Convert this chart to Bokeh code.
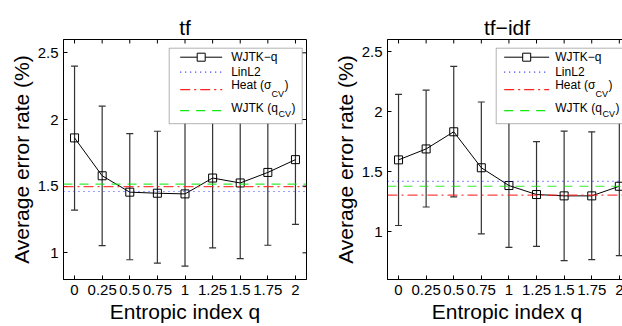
import math
from bokeh.plotting import figure
from bokeh.models import (Range1d, FixedTicker, Whisker, TeeHead,
                          ColumnDataSource, Span, BoxAnnotation, Label)
from bokeh.layouts import row
from bokeh.embed import file_html
from bokeh.resources import INLINE

# ---------------- data ----------------
q_values = [0, 0.25, 0.5, 0.75, 1, 1.25, 1.5, 1.75, 2]
q_labels = ["0", "0.25", "0.5", "0.75", "1", "1.25", "1.5", "1.75", "2"]
y_ticks = [1, 1.5, 2, 2.5]
y_labels = ["1", "1.5", "2", "2.5"]

tf_mean = [1.862, 1.578, 1.455, 1.447, 1.442, 1.561, 1.524, 1.603, 1.699]
tf_lower = [1.321, 1.054, 0.948, 0.923, 0.901, 1.037, 0.956, 1.057, 1.213]
tf_upper = [2.401, 2.100, 1.894, 1.912, 1.983, 2.085, 2.092, 2.149, 2.185]
tf_linl2 = 1.460
tf_heat = 1.497
tf_wjtk = 1.516

tfidf_mean = [1.597, 1.688, 1.831, 1.531, 1.383, 1.308, 1.297, 1.297, 1.377]
tfidf_lower = [1.050, 1.204, 1.289, 0.981, 0.868, 0.876, 0.758, 0.766, 0.799]
tfidf_upper = [2.142, 2.178, 2.376, 2.079, 1.930, 1.749, 1.837, 1.831, 1.955]
tfidf_linl2 = 1.418
tfidf_heat = 1.303
tfidf_wjtk = 1.377

titles = ["tf", "tf\u2212idf"]
x_label = "Entropic index q"
y_label = "Average error rate (%)"
legend_labels = ["WJTK\u2212q", "LinL2", "Heat (\u03c3", "WJTK (q"]
legend_sub = "CV"

FONT = "Liberation Sans"
FH = 240
BLUE, RED, GREEN = "#1a1aff", "#ff2020", "#10e810"
DOT, DASHDOT, DASH = "1 4", "10 4 2 4", "9 7"


def make_panel(title, mean, lower, upper, linl2, heat, wjtk,
               xr, yr, fw, bl, br, leg_left, leg_w, samp0, samp1, text_off):
    p = figure(frame_width=fw, frame_height=FH,
               x_range=Range1d(*xr), y_range=Range1d(*yr),
               output_backend="svg", toolbar_location=None,
               min_border_left=bl, min_border_right=br,
               min_border_top=39, min_border_bottom=47,
               background_fill_color="white", border_fill_color="white")
    p.grid.visible = False
    p.outline_line_color = "black"
    p.outline_line_width = 1

    p.title.text = title
    p.title.align = "center"
    p.title.text_font = FONT
    p.title.text_font_size = "21px"
    p.title.text_font_style = "normal"
    p.title.text_color = "black"
    p.title.standoff = 2

    xlabels = {str(v): l for v, l in zip(q_values, q_labels)}
    ylabels = {str(v): l for v, l in zip(y_ticks, y_labels)}

    for ax in [p.xaxis[0], p.yaxis[0]]:
        ax.major_tick_in = 4
        ax.major_tick_out = 0
        ax.minor_tick_line_color = None
        ax.axis_line_color = "black"
        ax.major_tick_line_color = "black"
        ax.major_label_text_font = FONT
        ax.major_label_text_font_size = "15px"
        ax.major_label_text_color = "black"
        ax.axis_label_text_font = FONT
        ax.axis_label_text_font_size = "21px"
        ax.axis_label_text_font_style = "normal"
        ax.axis_label_text_color = "black"
        ax.axis_label_standoff = 2
        ax.major_label_standoff = 5
    p.xaxis[0].ticker = FixedTicker(ticks=q_values)
    p.xaxis[0].major_label_overrides = xlabels
    p.xaxis[0].axis_label = x_label
    p.yaxis[0].ticker = FixedTicker(ticks=y_ticks)
    p.yaxis[0].major_label_overrides = ylabels
    p.yaxis[0].axis_label = y_label

    # inward ticks on the top and right edges of the box
    p.ray(x=q_values, y=[yr[1]] * len(q_values), length=4, length_units="screen",
          angle=-math.pi / 2, line_color="black", line_width=1, level="overlay")
    p.ray(x=[xr[1]] * len(y_ticks), y=y_ticks, length=4, length_units="screen",
          angle=math.pi, line_color="black", line_width=1, level="overlay")

    src = ColumnDataSource(dict(q=q_values, mean=mean, lower=lower, upper=upper))
    wk = Whisker(source=src, base="q", upper="upper", lower="lower",
                 line_color="#333333", line_width=1.2, level="underlay",
                 upper_head=TeeHead(size=7, line_color="#333333", line_width=1.2),
                 lower_head=TeeHead(size=7, line_color="#333333", line_width=1.2))
    p.add_layout(wk)
    p.line("q", "mean", source=src, line_color="black", line_width=1)
    p.scatter("q", "mean", source=src, marker="square", size=8,
              fill_color=None, line_color="black", line_width=1)

    styles = [(BLUE, DOT, linl2), (RED, DASHDOT, heat), (GREEN, DASH, wjtk)]
    for col, dash, val in styles:
        p.add_layout(Span(location=val, dimension="width", line_color=col,
                          line_dash=dash, line_width=1.2, line_alpha=0.85))

    # ---- manual legend (positions in frame pixels) ----
    def X(px):
        return xr[0] + px / fw * (xr[1] - xr[0])

    def Y(py):
        return yr[1] - py / FH * (yr[1] - yr[0])

    box_top = 8.7
    box_bot = box_top + 75.5
    p.add_layout(BoxAnnotation(left=X(leg_left), right=X(leg_left + leg_w),
                               top=Y(box_top), bottom=Y(box_bot),
                               fill_color="white", fill_alpha=1,
                               line_color="black", line_width=1,
                               level="annotation"))
    line_y = [box_top + 9, box_top + 24, box_top + 41.5, box_top + 62.5]
    text_y = [box_top + 9, box_top + 24, box_top + 37, box_top + 60]
    sub_y = [None, None, box_top + 45.5, box_top + 66]
    sx0, sx1 = X(leg_left + samp0), X(leg_left + samp1)
    samples = [("black", "solid"), (BLUE, DOT), (RED, DASHDOT), (GREEN, DASH)]
    for i, (col, dash) in enumerate(samples):
        p.line([sx0, sx1], [Y(line_y[i]), Y(line_y[i])], line_color=col,
               line_dash=dash, line_width=1.3 if i else 1, level="overlay")
    p.scatter([X(leg_left + (samp0 + samp1) / 2)], [Y(line_y[0])], marker="square",
              size=8, fill_color="white", line_color="black", level="overlay")
    tx = leg_left + text_off
    main_w = [0, 0, 39.9, 46.7]
    for i, lab in enumerate(legend_labels):
        p.add_layout(Label(x=X(tx), y=Y(text_y[i]), text=lab, text_font=FONT,
                           text_font_size="12px", text_baseline="middle",
                           text_color="black", level="overlay"))
        if sub_y[i] is not None:
            p.add_layout(Label(x=X(tx + main_w[i] + 0.5), y=Y(sub_y[i]), text=legend_sub,
                               text_font=FONT, text_font_size="9px",
                               text_baseline="middle", text_color="black",
                               level="overlay"))
            p.add_layout(Label(x=X(tx + main_w[i] + 13.5), y=Y(text_y[i]), text=")",
                               text_font=FONT, text_font_size="12px",
                               text_baseline="middle", text_color="black",
                               level="overlay"))
    return p


p1 = make_panel(titles[0], tf_mean, tf_lower, tf_upper, tf_linl2, tf_heat, tf_wjtk,
                (-0.1, 2.1), (0.8, 2.6), 243, 63, 24,
                leg_left=105.7, leg_w=133, samp0=11, samp1=53, text_off=62)
p2 = make_panel(titles[1], tfidf_mean, tfidf_lower, tfidf_upper, tfidf_linl2,
                tfidf_heat, tfidf_wjtk,
                (-0.1, 2.065), (0.6, 2.6), 239, 53, 0,
                leg_left=108.7, leg_w=127, samp0=8, samp1=53, text_off=59)

layout = row(p1, p2)
open("out.html", "w").write(file_html(layout, INLINE))
